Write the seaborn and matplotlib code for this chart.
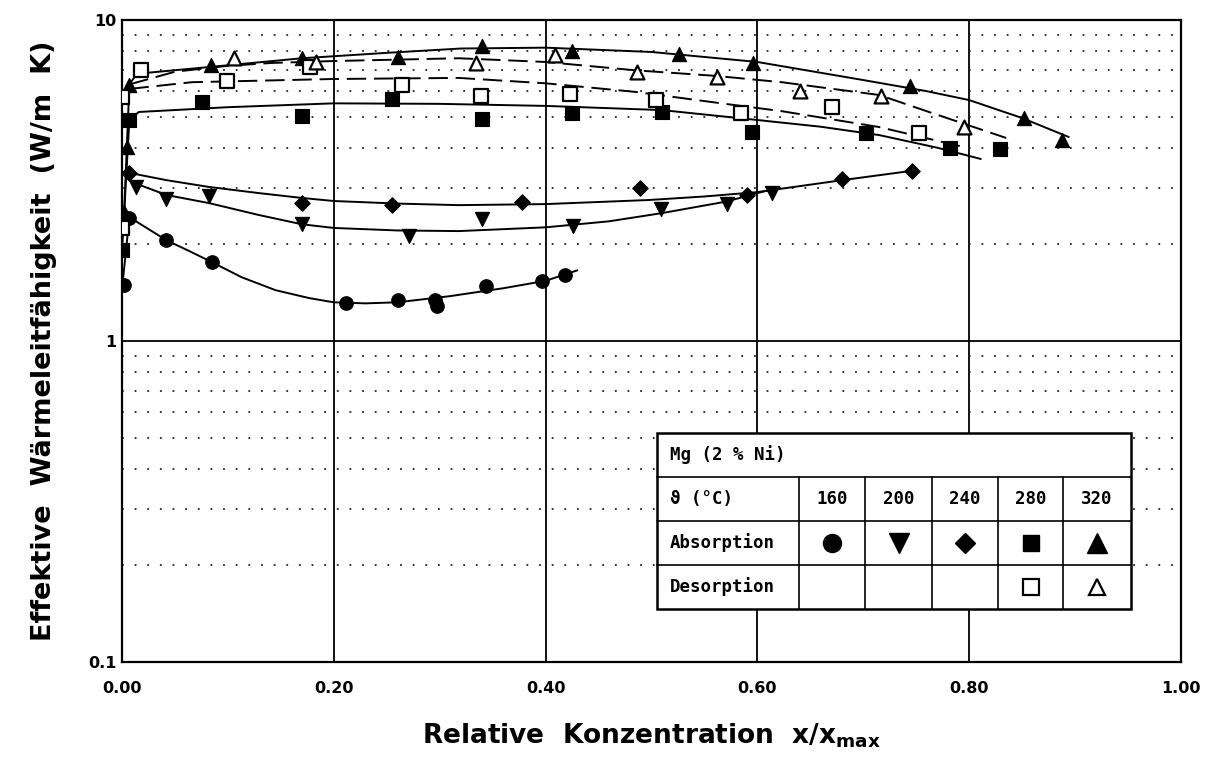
import matplotlib
matplotlib.use('Agg')
import matplotlib.pyplot as plt
import seaborn as sns
from matplotlib.patches import Rectangle
from matplotlib.lines import Line2D
from matplotlib.ticker import FixedLocator, LogLocator, NullFormatter

# ---- measured points (Mg 2 % Ni), x = x/xmax, y = W/m K ----
a160_x = [0.002, 0.007, 0.042, 0.085, 0.212, 0.261, 0.296, 0.297, 0.344, 0.397, 0.418]
a160_y = [1.49, 2.42, 2.06, 1.76, 1.31, 1.34, 1.34, 1.29, 1.48, 1.54, 1.60]

a200_x = [0.013, 0.042, 0.082, 0.170, 0.271, 0.340, 0.426, 0.509, 0.571, 0.614]
a200_y = [3.02, 2.77, 2.83, 2.31, 2.12, 2.40, 2.28, 2.58, 2.67, 2.89]

a240_x = [0.007, 0.170, 0.255, 0.378, 0.489, 0.590, 0.680, 0.746]
a240_y = [3.34, 2.69, 2.65, 2.71, 2.99, 2.85, 3.20, 3.39]

a280_x = [0.0, 0.007, 0.076, 0.170, 0.255, 0.340, 0.425, 0.510, 0.595, 0.703, 0.782, 0.829]
a280_y = [1.92, 4.88, 5.55, 5.02, 5.68, 4.92, 5.13, 5.17, 4.48, 4.45, 3.99, 3.97]

a320_x = [0.002, 0.005, 0.007, 0.084, 0.170, 0.261, 0.340, 0.425, 0.526, 0.596, 0.744, 0.852, 0.888]
a320_y = [2.52, 4.02, 6.27, 7.24, 7.62, 7.67, 8.30, 8.00, 7.84, 7.35, 6.23, 4.95, 4.23]

d280_x = [0.0, 0.0, 0.018, 0.099, 0.178, 0.264, 0.339, 0.423, 0.504, 0.585, 0.670, 0.753]
d280_y = [2.25, 5.76, 6.99, 6.46, 7.13, 6.27, 5.80, 5.88, 5.63, 5.13, 5.36, 4.45]

d320_x = [0.106, 0.183, 0.334, 0.409, 0.486, 0.562, 0.640, 0.717, 0.795]
d320_y = [7.62, 7.40, 7.35, 7.78, 6.89, 6.64, 6.01, 5.80, 4.64]

# ---- fitted curves as drawn in the figure ----
c160_x = [0.0, 0.007, 0.042, 0.063, 0.085, 0.113, 0.145, 0.177, 0.2, 0.23, 0.26, 0.31, 0.36, 0.4, 0.43]
c160_y = [1.45, 2.43, 2.06, 1.91, 1.76, 1.58, 1.44, 1.36, 1.32, 1.31, 1.32, 1.38, 1.46, 1.54, 1.66]

c200_x = [0.009, 0.042, 0.082, 0.129, 0.17, 0.2, 0.26, 0.318, 0.4, 0.46, 0.509, 0.571, 0.6, 0.62]
c200_y = [3.13, 2.85, 2.69, 2.47, 2.31, 2.25, 2.21, 2.20, 2.26, 2.36, 2.50, 2.72, 2.89, 3.0]

c240_x = [0.007, 0.042, 0.082, 0.129, 0.17, 0.2, 0.26, 0.318, 0.4, 0.498, 0.55, 0.6, 0.68, 0.746]
c240_y = [3.34, 3.17, 3.02, 2.89, 2.79, 2.73, 2.68, 2.65, 2.67, 2.75, 2.82, 2.91, 3.17, 3.39]

c280a_x = [0.0, 0.007, 0.016, 0.1, 0.2, 0.3, 0.4, 0.51, 0.6, 0.66, 0.715, 0.77, 0.811]
c280a_y = [1.9, 4.9, 5.17, 5.35, 5.5, 5.48, 5.4, 5.24, 4.88, 4.65, 4.38, 4.0, 3.69]

c320a_x = [0.002, 0.007, 0.014, 0.085, 0.17, 0.25, 0.32, 0.4, 0.5, 0.6, 0.7, 0.76, 0.8, 0.85, 0.894]
c320a_y = [2.5, 6.3, 6.8, 7.15, 7.6, 7.9, 8.15, 8.2, 7.95, 7.4, 6.5, 6.0, 5.63, 4.95, 4.32]

c280d_x = [0.007, 0.066, 0.2, 0.318, 0.4, 0.485, 0.577, 0.623, 0.715, 0.795]
c280d_y = [6.1, 6.4, 6.55, 6.6, 6.35, 5.97, 5.44, 5.2, 4.64, 4.02]

c320d_x = [0.007, 0.05, 0.1, 0.142, 0.2, 0.318, 0.4, 0.485, 0.56, 0.623, 0.715, 0.762, 0.835]
c320d_y = [6.3, 6.9, 7.2, 7.35, 7.45, 7.6, 7.4, 6.97, 6.7, 6.4, 5.84, 5.17, 4.29]

x_ticks = [0.0, 0.2, 0.4, 0.6, 0.8, 1.0]
x_labels = ['0.00', '0.20', '0.40', '0.60', '0.80', '1.00']
y_ticks = [0.1, 1, 10]
y_labels = ['0.1', '1', '10']
temps = ['160', '200', '240', '280', '320']

sns.set_style('white')
plt.rcParams['font.family'] = ['DejaVu Sans']
plt.rcParams['text.color'] = 'black'
plt.rcParams['axes.labelcolor'] = 'black'
plt.rcParams['xtick.color'] = 'black'
plt.rcParams['ytick.color'] = 'black'
plt.rcParams['mathtext.fontset'] = 'custom'
plt.rcParams['mathtext.rm'] = 'DejaVu Sans:bold'

fig = plt.figure(figsize=(12.15, 7.69), dpi=100)
ax = fig.add_axes([0.1004, 0.1391, 0.8716, 0.8349])
ax.set_yscale('log')

solid = '-'
dashed = (0, (10, 4))
for cx, cy, ls in [(c160_x, c160_y, solid), (c200_x, c200_y, solid), (c240_x, c240_y, solid),
                   (c280a_x, c280a_y, solid), (c320a_x, c320a_y, solid),
                   (c280d_x, c280d_y, dashed), (c320d_x, c320d_y, dashed)]:
    sns.lineplot(x=cx, y=cy, ax=ax, color='black', lw=1.4, linestyle=ls, zorder=3)

filled = [(a160_x, a160_y, 'o', 95), (a200_x, a200_y, 'v', 105), (a240_x, a240_y, 'D', 62),
          (a280_x, a280_y, 's', 88), (a320_x, a320_y, '^', 105)]
for px, py, m, s in filled:
    sns.scatterplot(x=px, y=py, ax=ax, marker=m, s=s, color='black', edgecolor='black',
                    linewidth=0.8, zorder=4)
for px, py, m in [(d280_x, d280_y, 's'), (d320_x, d320_y, '^')]:
    sns.scatterplot(x=px, y=py, ax=ax, marker=m, s=100, color='white', edgecolor='black',
                    linewidth=1.6, zorder=4)

ax.set_xlim(0, 1)
ax.set_ylim(0.1, 10)
ax.set_xticks(x_ticks)
ax.set_xticklabels(x_labels)
ax.yaxis.set_major_locator(FixedLocator(y_ticks))
ax.set_yticklabels(y_labels)
ax.yaxis.set_minor_locator(LogLocator(base=10, subs=range(2, 10)))
ax.yaxis.set_minor_formatter(NullFormatter())
ax.grid(True, which='major', color='black', lw=1.3)
ax.grid(True, which='minor', axis='y', color='#222222', lw=1.3, linestyle=(0, (1, 6)))
ax.set_axisbelow(True)
ax.tick_params(which='both', length=0)
ax.tick_params(axis='x', pad=14, labelsize=11.5)
ax.tick_params(axis='y', pad=4, labelsize=11.5)
for lab in ax.get_xticklabels() + ax.get_yticklabels():
    lab.set_fontweight('bold')
for sp in ax.spines.values():
    sp.set_color('black')
    sp.set_linewidth(1.6)

ax.set_xlabel(r'Relative  Konzentration  x/x$_{\mathrm{max}}$', fontsize=19,
              fontweight='bold', labelpad=18)
ax.set_ylabel('Effektive  Wärmeleitfähigkeit  (W/m  K)', fontsize=19.5,
              fontweight='bold', labelpad=22)

# ---- legend table (pixel layout of the reference) ----
W, H = 1215, 769
fx = lambda p: p / W
fy = lambda p: 1 - p / H
L, R, T, B = 657, 1131, 433, 609
rows = [477, 521, 565]
cols = [799, 865, 932, 998, 1063]
fig.add_artist(Rectangle((fx(L), fy(B)), fx(R) - fx(L), fy(T) - fy(B), transform=fig.transFigure,
                         facecolor='white', edgecolor='black', lw=1.8, zorder=5))
for r in rows:
    fig.add_artist(Line2D([fx(L), fx(R)], [fy(r), fy(r)], transform=fig.transFigure,
                          color='black', lw=1.2, zorder=6))
for c in cols:
    fig.add_artist(Line2D([fx(c), fx(c)], [fy(rows[0]), fy(B)], transform=fig.transFigure,
                          color='black', lw=1.2, zorder=6))

tfont = dict(family=['DejaVu Sans Mono', 'DejaVu Sans'], fontweight='bold', fontsize=12.5,
             va='center', zorder=7)
fig.text(fx(670), fy((T + rows[0]) / 2), 'Mg (2 % Ni)', ha='left', **tfont)
fig.text(fx(670), fy((rows[0] + rows[1]) / 2), 'ϑ (°C)', ha='left', **tfont)
fig.text(fx(670), fy((rows[1] + rows[2]) / 2), 'Absorption', ha='left', **tfont)
fig.text(fx(670), fy((rows[2] + B) / 2), 'Desorption', ha='left', **tfont)
edges = cols + [R]
centers = [(edges[i] + edges[i + 1]) / 2 for i in range(5)]
for cxp, t in zip(centers, temps):
    fig.text(fx(cxp), fy((rows[0] + rows[1]) / 2), t, ha='center', **tfont)
for cxp, m, ms in zip(centers, ['o', 'v', 'D', 's', '^'], [13, 14, 10, 12, 14]):
    fig.add_artist(Line2D([fx(cxp)], [fy((rows[1] + rows[2]) / 2)], transform=fig.transFigure,
                          marker=m, ms=ms, color='black', lw=0, zorder=7))
for cxp, m in zip(centers[3:], ['s', '^']):
    fig.add_artist(Line2D([fx(cxp)], [fy((rows[2] + B) / 2)], transform=fig.transFigure,
                          marker=m, ms=12, mfc='white', mec='black', mew=1.6, lw=0, zorder=7))

fig.savefig('out.png', dpi=100)
